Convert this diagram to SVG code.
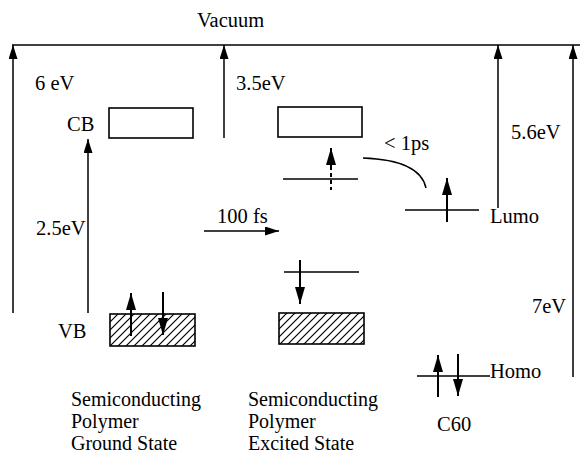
<svg xmlns="http://www.w3.org/2000/svg" width="580" height="455" viewBox="0 0 580 455" font-family="'Liberation Serif', 'DejaVu Serif', serif">
<style>
text{font-family:'Liberation Serif','DejaVu Serif',serif;font-size:20.5px;fill:#000}
text.cap{font-size:20px}
.ln{stroke:#000;stroke-width:1.5;fill:none}
.box{stroke:#000;stroke-width:1.6;fill:#fff}
.hb{stroke:#000;stroke-width:1.6;fill:url(#hatch)}
.ar{stroke:#000;stroke-width:1.5;fill:none;marker-end:url(#ah)}
.sp{stroke:#000;stroke-width:2;fill:none;marker-end:url(#sh)}
</style>
<defs>
<marker id="ah" markerUnits="userSpaceOnUse" markerWidth="15" markerHeight="9" refX="14" refY="4.5" orient="auto">
<path d="M0,0 L14,4.5 L0,9 z" fill="#000"/>
</marker>
<marker id="sh" markerUnits="userSpaceOnUse" markerWidth="18" markerHeight="10" refX="17" refY="5" orient="auto">
<path d="M0,0 L17,5 L0,10 z" fill="#000"/>
</marker>
<pattern id="hatch" patternUnits="userSpaceOnUse" width="8" height="8">
<rect width="8" height="8" fill="#fff"/>
<path d="M0,8 L8,0 M-2,2 L2,-2 M6,10 L10,6" stroke="#000" stroke-width="1.2"/>
</pattern>
</defs>
<g id="vacuum">
<line class="ln" x1="12" y1="45" x2="580" y2="45"/>
<text x="197" y="27">Vacuum</text>
</g>
<g id="ground-state">
<rect class="box" x="109" y="108" width="84" height="30"/>
<rect class="hb" x="110" y="314" width="85" height="32"/>
<text x="67" y="131">CB</text>
<text x="58" y="338">VB</text>
<text class="cap" x="71" y="406">Semiconducting</text>
<text class="cap" x="71" y="428">Polymer</text>
<text class="cap" x="71" y="450">Ground State</text>
</g>
<g id="excited-state">
<rect class="box" x="278" y="107" width="84" height="30"/>
<rect class="hb" x="279" y="313" width="85" height="31"/>
<line class="ln" x1="283" y1="179" x2="358" y2="179"/>
<line class="ln" x1="284" y1="272" x2="359" y2="272"/>
<text class="cap" x="248" y="406">Semiconducting</text>
<text class="cap" x="248" y="428">Polymer</text>
<text class="cap" x="248" y="450">Excited State</text>
</g>
<g id="c60">
<line class="ln" x1="405" y1="210" x2="479" y2="210"/>
<line class="ln" x1="417" y1="376" x2="490" y2="376"/>
<text x="490" y="223">Lumo</text>
<text x="490" y="378">Homo</text>
<text x="437" y="431">C60</text>
</g>
<g id="connectors">
<line class="ar" x1="13" y1="313" x2="13" y2="45"/>
<line class="ar" x1="224" y1="138" x2="224" y2="45"/>
<line class="ar" x1="88" y1="313" x2="88" y2="139"/>
<line class="ar" x1="498" y1="208" x2="498" y2="45"/>
<line class="ar" x1="573" y1="377" x2="573" y2="45"/>
<line class="ar" x1="204" y1="231" x2="279" y2="231"/>
<path class="ln" d="M363,158 Q420,160 426,188"/>
<line class="sp" x1="131" y1="336" x2="131" y2="293"/>
<line class="sp" x1="163" y1="292" x2="163" y2="335"/>
<line class="sp" x1="300" y1="260" x2="300" y2="304"/>
<line class="sp" x1="331" y1="167" x2="331" y2="148"/>
<line x1="331" y1="166" x2="331" y2="190" stroke="#000" stroke-width="2" stroke-dasharray="4,3"/>
<line class="sp" x1="447" y1="222" x2="447" y2="178"/>
<line class="sp" x1="438" y1="397" x2="438" y2="355"/>
<line class="sp" x1="458" y1="354" x2="458" y2="396"/>
</g>
<g id="labels">
<text x="35" y="90">6 eV</text>
<text x="236" y="90">3.5eV</text>
<text x="36" y="235">2.5eV</text>
<text x="217" y="223">100 fs</text>
<text x="384" y="150">&lt; 1ps</text>
<text x="511" y="139">5.6eV</text>
<text x="532" y="313">7eV</text>
</g>
</svg>
